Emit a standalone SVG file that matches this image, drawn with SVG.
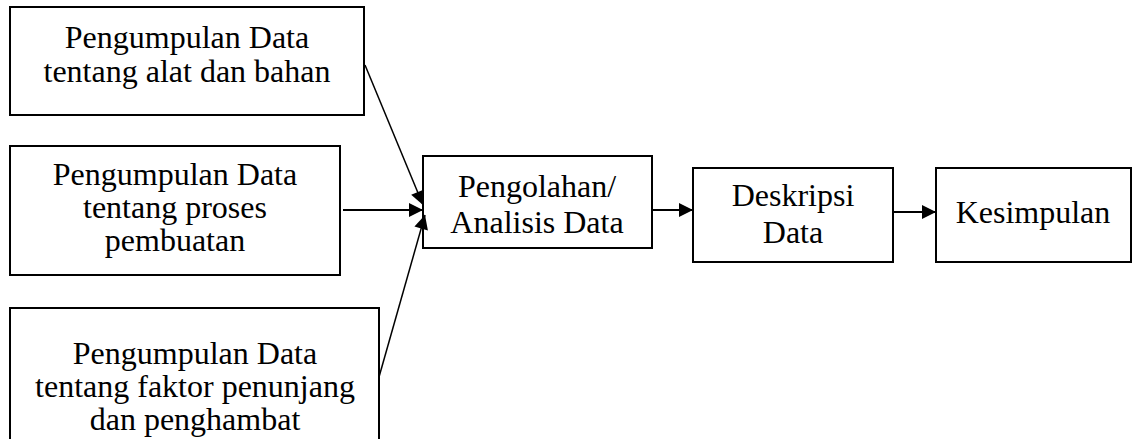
<svg xmlns="http://www.w3.org/2000/svg" width="1138" height="439" viewBox="0 0 1138 439">
<style>
.box{fill:#fff;stroke:#000;stroke-width:2}
.t{font-family:"Liberation Serif","Times New Roman",serif;font-size:32px;fill:#000;text-anchor:middle}
.c{stroke:#000;stroke-width:2;fill:none}
.d{stroke-width:1.5}
</style>
<defs>
<marker id="ah" viewBox="0 0 10 10" refX="10" refY="5" markerWidth="17" markerHeight="14" markerUnits="userSpaceOnUse" orient="auto">
<path d="M0,0 L10,5 L0,10 Z" fill="#000"/>
</marker>
</defs>
<rect width="1138" height="439" fill="#fff"/>
<g id="n1">
<rect class="box" x="10" y="7" width="354" height="108"/>
<text class="t" x="187" y="48">Pengumpulan Data</text>
<text class="t" x="187" y="82">tentang alat dan bahan</text>
</g>
<g id="n2">
<rect class="box" x="10" y="146" width="330" height="129"/>
<text class="t" x="175" y="185">Pengumpulan Data</text>
<text class="t" x="175" y="218">tentang proses</text>
<text class="t" x="175" y="251">pembuatan</text>
</g>
<g id="n3">
<rect class="box" x="10" y="308" width="369" height="140"/>
<text class="t" x="195" y="364">Pengumpulan Data</text>
<text class="t" x="195" y="397">tentang faktor penunjang</text>
<text class="t" x="195" y="430">dan penghambat</text>
</g>
<g id="n4">
<rect class="box" x="423" y="156" width="229" height="92"/>
<text class="t" x="537" y="197">Pengolahan/</text>
<text class="t" x="537" y="233">Analisis Data</text>
</g>
<g id="n5">
<rect class="box" x="693" y="168" width="200" height="94"/>
<text class="t" x="793" y="206">Deskripsi</text>
<text class="t" x="793" y="243">Data</text>
</g>
<g id="n6">
<rect class="box" x="936" y="168" width="195" height="94"/>
<text class="t" x="1033" y="223">Kesimpulan</text>
</g>
<g id="connectors">
<line class="c d" x1="365" y1="65" x2="423" y2="205" marker-end="url(#ah)"/>
<line class="c" x1="343" y1="210" x2="423" y2="210" marker-end="url(#ah)"/>
<line class="c d" x1="379" y1="377" x2="425" y2="215" marker-end="url(#ah)"/>
<line class="c" x1="652" y1="210" x2="693" y2="210" marker-end="url(#ah)"/>
<line class="c" x1="893" y1="212" x2="936" y2="212" marker-end="url(#ah)"/>
</g>
</svg>
